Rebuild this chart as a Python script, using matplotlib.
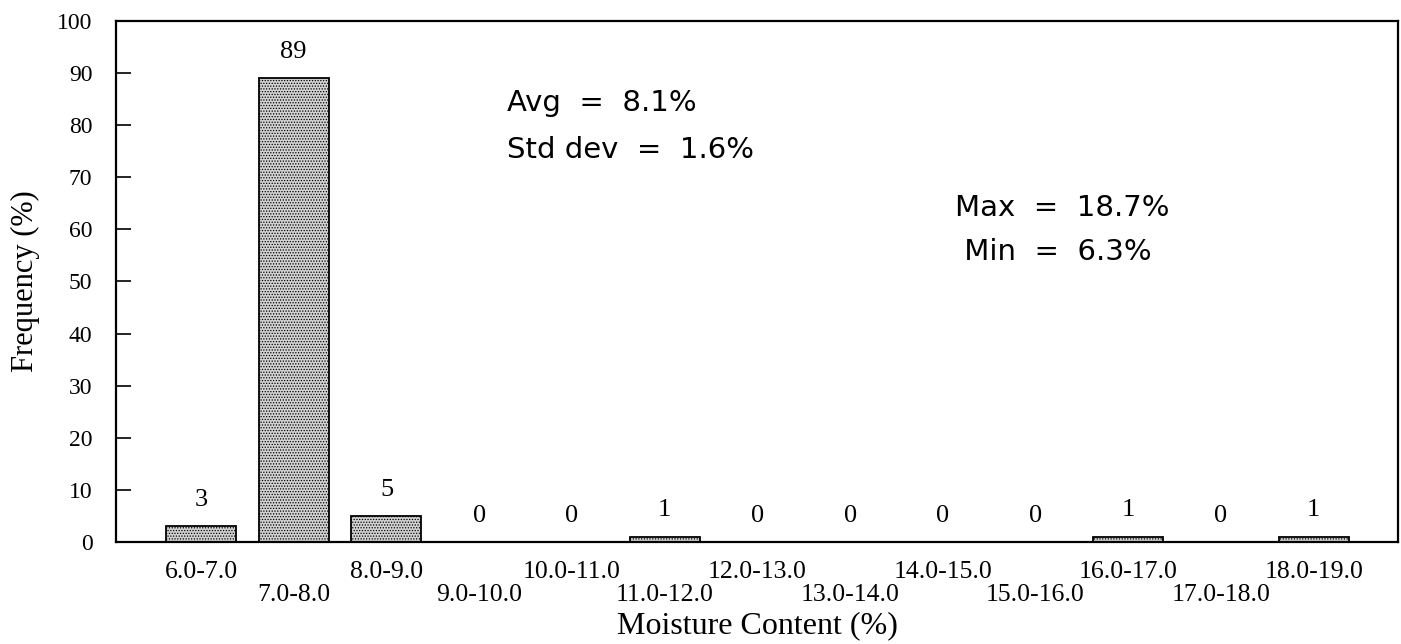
import matplotlib
matplotlib.use("Agg")
import matplotlib.pyplot as plt
import numpy as np

# Moisture content classes (%) and share of samples in each (%)
categories = ["6.0-7.0", "7.0-8.0", "8.0-9.0", "9.0-10.0", "10.0-11.0",
              "11.0-12.0", "12.0-13.0", "13.0-14.0", "14.0-15.0",
              "15.0-16.0", "16.0-17.0", "17.0-18.0", "18.0-19.0"]
frequency = [3, 89, 5, 0, 0, 1, 0, 0, 0, 0, 1, 0, 1]

stats_left = ["Avg  =  8.1%", "Std dev  =  1.6%"]
stats_right = ["Max  =  18.7%", " Min  =  6.3%"]

serif = ["Liberation Serif", "DejaVu Serif"]
sans = ["DejaVu Sans"]

plt.rcParams["hatch.linewidth"] = 0.6
plt.rcParams["hatch.color"] = "#666666"

fig = plt.figure(figsize=(14.01, 6.44), dpi=100)
ax = fig.add_axes([0.0828, 0.1584, 0.9151, 0.809])

x = np.arange(len(categories))
ax.bar(x, frequency, width=0.755, color="#d2d2d2", edgecolor="black",
       linewidth=1.3, hatch="......", zorder=2)

for xi, v in zip(x, frequency):
    ax.annotate(f"{v}", xy=(xi, v), xytext=(0, 19), textcoords="offset points",
                ha="center", va="center", fontsize=19, family=serif)

ax.set_xlim(-0.917, 12.91)
ax.set_ylim(0, 100)
ax.set_yticks(np.arange(0, 101, 10))
ax.tick_params(axis="y", direction="in", length=11, width=1.2, pad=17,
               labelsize=17)
for lab in ax.get_yticklabels():
    lab.set_family(serif)

ax.set_xticks(x, categories)
ax.tick_params(axis="x", length=0, labelsize=18.5)
for i, tick in enumerate(ax.xaxis.get_major_ticks()):
    tick.set_pad(13.5 if i % 2 == 0 else 30.5)
    tick.label1.set_family(serif)

for s in ax.spines.values():
    s.set_linewidth(1.6)

ax.set_xlabel("Moisture Content (%)", fontsize=23, family=serif, labelpad=3.5)
ax.set_ylabel("Frequency (%)", fontsize=22, family=serif, labelpad=12)

ax.text(507, 644 - 103, stats_left[0], transform=None, fontsize=21,
        family=sans, va="center", ha="left")
ax.text(507, 644 - 150, stats_left[1], transform=None, fontsize=21,
        family=sans, va="center", ha="left")
ax.text(955, 644 - 208, stats_right[0], transform=None, fontsize=21,
        family=sans, va="center", ha="left")
ax.text(955, 644 - 252, stats_right[1], transform=None, fontsize=21,
        family=sans, va="center", ha="left")

fig.savefig("out.png", dpi=100, facecolor="white")
